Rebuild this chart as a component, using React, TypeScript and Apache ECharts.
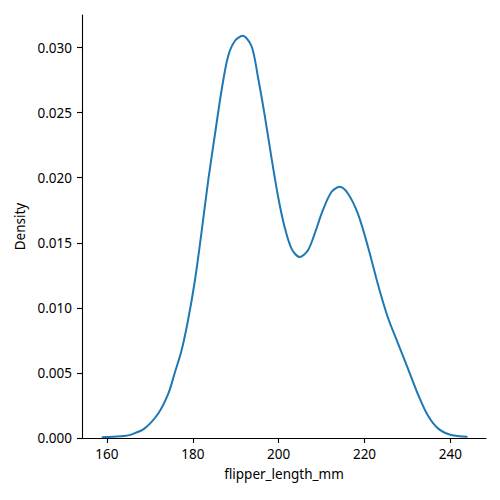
import React, { useEffect, useRef } from "react";
import * as echarts from "echarts";

const flipperLength = [
  158.8, 161.5, 164.0, 165.8, 168.8, 172.0, 174.3, 175.8, 177.4, 178.9, 180.5, 182.0,
  183.6, 185.2, 186.7, 188.2, 189.8, 191.6, 193.7, 195.2, 196.7, 198.3, 199.9, 201.4,
  203.0, 204.9, 206.8, 208.4, 210.3, 212.3, 214.2, 216.1, 218.5, 220.8, 223.3, 225.4,
  227.8, 230.1, 232.4, 234.7, 237.1, 240.2, 244.0,
];
const density = [
  0.00005, 0.0001, 0.00015, 0.00028, 0.00074, 0.0019, 0.0034, 0.005, 0.00675, 0.00905, 0.0121, 0.0157,
  0.0198, 0.0234, 0.0267, 0.0293, 0.0305, 0.0309, 0.0301, 0.0277, 0.0249, 0.0216, 0.0185, 0.0162,
  0.01455, 0.0139, 0.0144, 0.0157, 0.0175, 0.0189, 0.0193, 0.0188, 0.0172, 0.0147, 0.0116, 0.0093,
  0.00727, 0.00535, 0.0034, 0.00176, 0.00074, 0.00023, 0.0001,
];
const xTicks = [160, 180, 200, 220, 240];
const yTicks = [0, 0.005, 0.01, 0.015, 0.02, 0.025, 0.03];

const FONT = "Noto Sans";

export default function App() {
  const ref = useRef<HTMLDivElement>(null);
  useEffect(() => {
    if (!ref.current) return;
    const chart = echarts.init(ref.current, null, { renderer: "svg" });
    const axisCommon = {
      axisLine: { show: true, lineStyle: { color: "#000", width: 1.1 } },
      splitLine: { show: false },
    };
    chart.setOption({
      animation: false,
      backgroundColor: "#fff",
      grid: { left: 82, top: 15, right: 14, bottom: 62 },
      xAxis: {
        type: "value",
        min: 154.2,
        max: 248.3,
        ...axisCommon,
        axisTick: { show: true, length: 5, inside: false, customValues: xTicks, lineStyle: { color: "#000", width: 1.1 } },
        axisLabel: {
          customValues: xTicks,
          margin: 9,
          color: "#000",
          fontFamily: FONT,
          fontSize: 13.5,
        },
        name: "flipper_length_mm",
        nameLocation: "middle",
        nameGap: 29,
        nameTextStyle: { color: "#000", fontFamily: FONT, fontSize: 13.5 },
      },
      yAxis: {
        type: "value",
        min: 0,
        max: 0.0325,
        ...axisCommon,
        axisTick: { show: true, length: 5, inside: false, customValues: yTicks, lineStyle: { color: "#000", width: 1.1 } },
        axisLabel: {
          customValues: yTicks,
          margin: 10,
          color: "#000",
          fontFamily: FONT,
          fontSize: 13.5,
          formatter: (v: number) => v.toFixed(3),
        },
        name: "Density",
        nameLocation: "middle",
        nameGap: 52,
        nameTextStyle: { color: "#000", fontFamily: FONT, fontSize: 13.5 },
      },
      series: [
        {
          type: "line",
          data: flipperLength.map((x, i) => [x, density[i]]),
          smooth: 0.3,
          showSymbol: false,
          lineStyle: { color: "#1f77b4", width: 2 },
        },
      ],
    });
    return () => chart.dispose();
  }, []);
  return <div ref={ref} style={{ width: 500, height: 500, margin: -8 }} />;
}
